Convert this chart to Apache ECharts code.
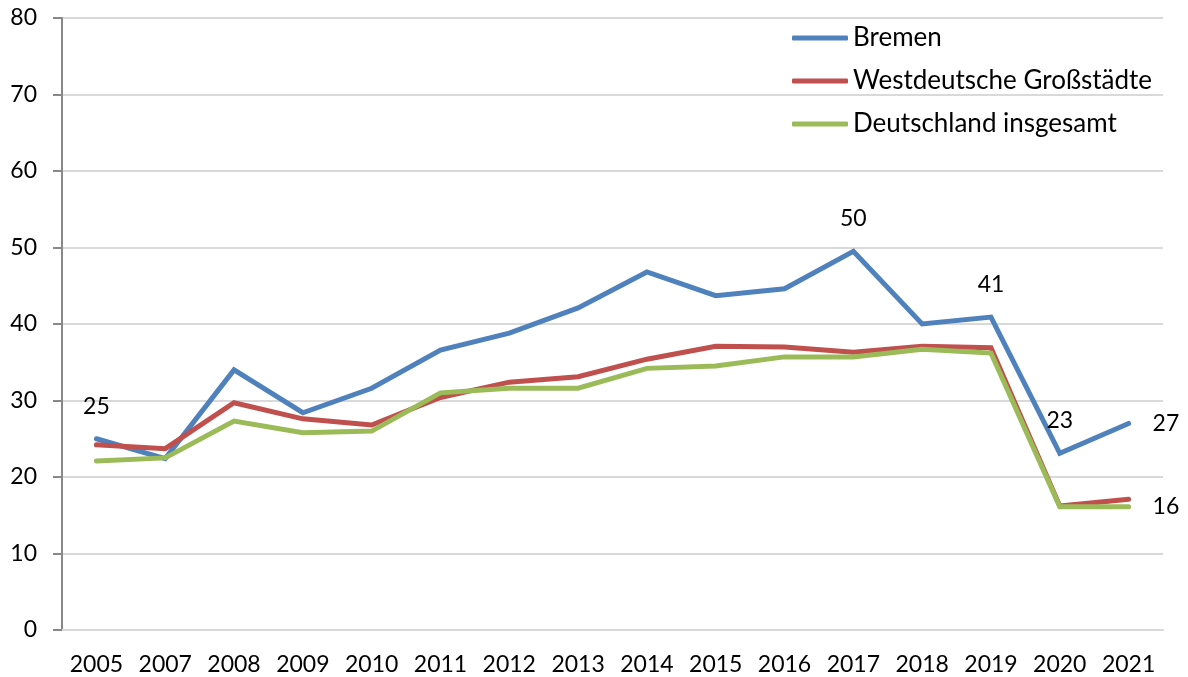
<!DOCTYPE html>
<html>
<head>
<meta charset="utf-8">
<script src="https://cdn.jsdelivr.net/npm/echarts@6/dist/echarts.min.js"></script>
<style>
  html, body { margin: 0; padding: 0; background: #fff; }
  #chart { width: 1188px; height: 677px; }
</style>
</head>
<body>
<div id="chart"></div>
<script>
// Jahre (2006 fehlt im Original)
const years = ['2005', '2007', '2008', '2009', '2010', '2011', '2012', '2013', '2014', '2015', '2016', '2017', '2018', '2019', '2020', '2021'];

const bremen = [25.0, 22.4, 34.0, 28.4, 31.6, 36.6, 38.8, 42.1, 46.8, 43.7, 44.6, 49.5, 40.0, 40.9, 23.1, 27.0];
const westdeutsch = [24.2, 23.7, 29.7, 27.6, 26.8, 30.4, 32.4, 33.1, 35.4, 37.1, 37.0, 36.3, 37.1, 36.9, 16.2, 17.1];
const deutschland = [22.1, 22.5, 27.3, 25.8, 26.0, 31.0, 31.6, 31.6, 34.2, 34.5, 35.7, 35.7, 36.7, 36.2, 16.1, 16.1];

const yTicks = [0, 10, 20, 30, 40, 50, 60, 70, 80];

const FONT = 'Lato';

// which points get a value label, and where
const bremenLabelled = { 0: 'top', 11: 'top', 13: 'top', 14: 'top', 15: 'right' };
const deutschlandLabelled = { 15: 'right' };

function withLabels(values, where) {
  return values.map((v, i) => {
    if (!where[i]) return v;
    return {
      value: v,
      label: {
        show: true,
        position: where[i],
        distance: where[i] === 'right' ? 24 : 21,
        formatter: p => Math.round(p.value),
        color: '#000',
        fontFamily: FONT,
        fontSize: 23
      }
    };
  });
}

const chart = echarts.init(document.getElementById('chart'));

const lineSeries = (name, data, color) => ({
  name: name,
  type: 'line',
  data: data,
  symbol: 'circle',
  symbolSize: 0,
  showSymbol: true,
  color: color,
  itemStyle: { color: color },
  lineStyle: { width: 5, color: color, cap: 'round', join: 'miter' }
});

chart.setOption({
  animation: false,
  textStyle: { fontFamily: FONT },
  grid: { left: 62, right: 25, top: 18, bottom: 47, containLabel: false },
  legend: {
    orient: 'vertical',
    left: 787,
    top: 20,
    icon: 'roundRect',
    itemWidth: 56,
    itemHeight: 5,
    itemGap: 17,
    textStyle: { fontFamily: FONT, fontSize: 26, color: '#000' },
    data: ['Bremen', 'Westdeutsche Großstädte', 'Deutschland insgesamt']
  },
  xAxis: {
    type: 'category',
    data: years,
    boundaryGap: true,
    axisLine: { lineStyle: { color: '#d9d9d9', width: 2 } },
    axisTick: { show: false },
    axisLabel: { color: '#000', fontFamily: FONT, fontSize: 23, margin: 23, interval: 0, hideOverlap: false }
  },
  yAxis: {
    type: 'value',
    min: yTicks[0],
    max: yTicks[yTicks.length - 1],
    interval: 10,
    axisLine: { show: true, lineStyle: { color: '#888', width: 2 } },
    axisTick: { show: true, length: 9, lineStyle: { color: '#888', width: 2 } },
    splitLine: { lineStyle: { color: '#d9d9d9', width: 2 } },
    axisLabel: { color: '#000', fontFamily: FONT, fontSize: 23, margin: 25 }
  },
  series: [
    lineSeries('Bremen', withLabels(bremen, bremenLabelled), '#4f81bd'),
    lineSeries('Westdeutsche Großstädte', westdeutsch, '#c0504d'),
    lineSeries('Deutschland insgesamt', withLabels(deutschland, deutschlandLabelled), '#9bbb59')
  ]
});

window.addEventListener('resize', function () {
  chart.resize();
});
</script>
</body>
</html>
